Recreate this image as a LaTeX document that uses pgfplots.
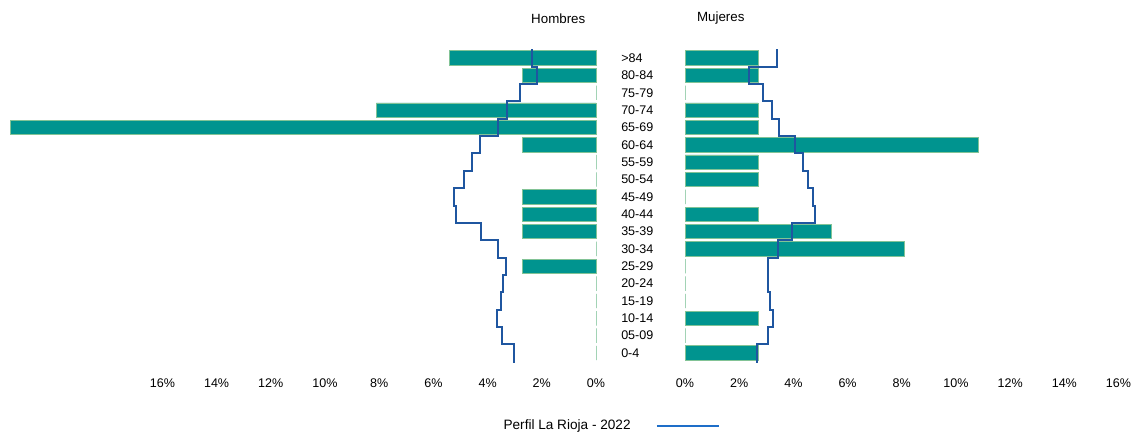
\documentclass[border=0pt]{standalone}
\usepackage{pgfplots}
\pgfplotsset{compat=1.18}
\usepackage{pgfplotstable}
\usepackage{fontspec}
\setmainfont{Liberation Sans}
\definecolor{barteal}{RGB}{0,148,143}
\definecolor{baredge}{RGB}{130,195,150}
\definecolor{lineblue}{RGB}{31,86,160}
\definecolor{legblue}{RGB}{30,110,200}

% bars: percentage of the total population (index 0 = 0-4 ... 17 = >84)
\pgfplotstableread{
idx men women
0  0      2.7027
1  0      0
2  0      2.7027
3  0      0
4  0      0
5  2.7027 0
6  0      8.1081
7  2.7027 5.4054
8  2.7027 2.7027
9  2.7027 0
10 0      2.7027
11 0      2.7027
12 2.7027 10.8108
13 21.6216 2.7027
14 8.1081 2.7027
15 0      0
16 2.7027 2.7027
17 5.4054 2.7027
}\bars

\begin{document}
\fontsize{9.4}{11}\selectfont
\begin{tikzpicture}
\useasboundingbox (0,0) rectangle (852.75pt,-327pt);
\pgfplotsset{
  pyr/.style={
    scale only axis, height=236.8pt,
    ymin=-0.6, ymax=17.6, xmin=0,
    axis line style={draw=none},
    major tick length=0pt,
    /pgf/number format/assume math mode=true,
    xtick={0,2,...,16},
    xticklabel={\pgfmathprintnumber{\tick}\%},
    xticklabel style={anchor=center, inner sep=0pt, yshift=-14.7pt},
    clip=false,
  },
  barsty/.style={xbar, bar shift=0pt, bar width=0.83, fill=barteal, draw=baredge, line width=0.6pt, forget plot},
  linesty/.style={draw=lineblue, line width=1.5pt, mark=none, line join=miter},
}

% ---------------- Hombres ----------------
\begin{axis}[pyr, at={(225.45pt,-272.55pt)}, anchor=south, width=443.1pt,
  x dir=reverse, xmax=21.8, ytick=\empty]
\addplot[barsty] table[x=men, y=idx] {\bars};
\addplot[linesty] coordinates {
 (3.03,-0.55) (3.03,0.5)
 (3.46,0.5) (3.46,1.5)
 (3.66,1.5) (3.66,2.5)
 (3.52,2.5) (3.52,3.5)
 (3.42,3.5) (3.42,4.5)
 (3.33,4.5) (3.33,5.5)
 (3.63,5.5) (3.63,6.5)
 (4.25,6.5) (4.25,7.5)
 (5.17,7.5) (5.17,8.5)
 (5.23,8.5) (5.23,9.5)
 (4.86,9.5) (4.86,10.5)
 (4.59,10.5) (4.59,11.5)
 (4.28,11.5) (4.28,12.5)
 (3.63,12.5) (3.63,13.5)
 (3.30,13.5) (3.30,14.5)
 (2.80,14.5) (2.80,15.5)
 (2.16,15.5) (2.16,16.5)
 (2.36,16.5) (2.36,17.55)
};
\end{axis}

% ---------------- Mujeres ----------------
\begin{axis}[pyr, at={(681.4pt,-272.55pt)}, anchor=south, width=335.3pt,
  xmax=16.5,
  ytick={0,...,17},
  yticklabels={0-4,05-09,10-14,15-19,20-24,25-29,30-34,35-39,40-44,45-49,50-54,55-59,60-64,65-69,70-74,75-79,80-84,>84},
  yticklabel style={anchor=west, inner sep=0pt, xshift=-48pt},
  legend plot pos=right,
  legend style={at={(-0.1666,-0.1973)}, anchor=center, draw=none, fill=none,
    font=\fontsize{10.2}{12}\selectfont},
  legend image code/.code={\path (0pt,0pt); \draw[line width=1.8pt, legblue] (17pt,0pt) -- (63.5pt,0pt);},
]
\addplot[barsty] table[x=women, y=idx] {\bars};
\addplot[linesty] coordinates {
 (2.64,-0.55) (2.64,0.5)
 (3.07,0.5) (3.07,1.5)
 (3.24,1.5) (3.24,2.5)
 (3.14,2.5) (3.14,3.5)
 (3.07,3.5) (3.07,4.5)
 (3.05,4.5) (3.05,5.5)
 (3.42,5.5) (3.42,6.5)
 (3.94,6.5) (3.94,7.5)
 (4.79,7.5) (4.79,8.5)
 (4.71,8.5) (4.71,9.5)
 (4.53,9.5) (4.53,10.5)
 (4.37,10.5) (4.37,11.5)
 (4.06,11.5) (4.06,12.5)
 (3.47,12.5) (3.47,13.5)
 (3.20,13.5) (3.20,14.5)
 (2.87,14.5) (2.87,15.5)
 (2.37,15.5) (2.37,16.5)
 (3.38,16.5) (3.38,17.55)
};
\addlegendentry{Perfil La Rioja - 2022}
\end{axis}

\node[font=\fontsize{10}{12}\selectfont] at (418.7pt,-14.1pt) {Hombres};
\node[font=\fontsize{10}{12}\selectfont] at (540.6pt,-13.6pt) {Mujeres};
\end{tikzpicture}
\end{document}
